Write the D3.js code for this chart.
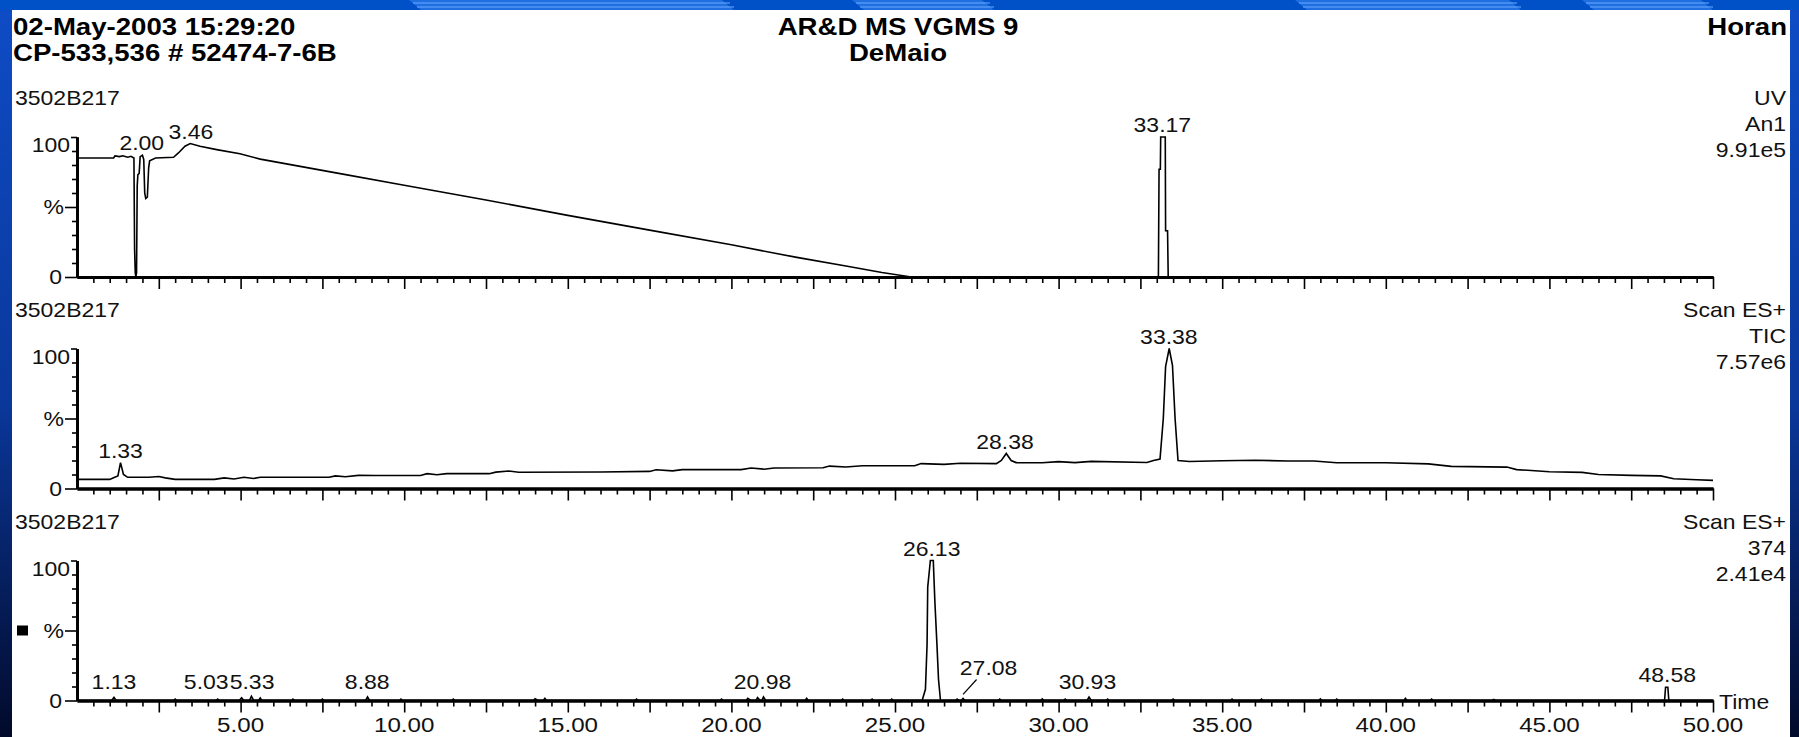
<!DOCTYPE html>
<html>
<head>
<meta charset="utf-8">
<script src="https://cdn.jsdelivr.net/npm/d3@7"></script>
<style>
html,body{margin:0;padding:0;background:#0a3a9c;overflow:hidden}
svg{display:block}
</style>
</head>
<body>
<svg id="chart"></svg>
<script>
// ---- data ----
const headerLeft = ["02-May-2003 15:29:20", "CP-533,536 # 52474-7-6B"]
const headerMid = ["AR&D MS VGMS 9", "DeMaio"]
const headerRight = "Horan"
const sampleName = "3502B217"
const traceInfo = [["UV", "An1", "9.91e5"], ["Scan ES+", "TIC", "7.57e6"], ["Scan ES+", "374", "2.41e4"]]
const timeTicks = [5, 10, 15, 20, 25, 30, 35, 40, 45, 50]

// UV An1 trace [time, %]
const uvTrace = [[0,85],[1.12,85],[1.16,86.5],[1.3,86],[1.4,86.6],[1.55,85.6],[1.65,86.2],[1.74,85],
  [1.76,20],[1.78,3],[1.8,0],[1.82,3],[1.84,65],[1.86,73],[1.9,74],[1.93,86],[2.0,87],[2.04,84],
  [2.07,60],[2.1,56],[2.15,57],[2.19,78],[2.22,83],[2.4,85],[2.95,85.5],[3.1,88.6],[3.3,93.4],
  [3.46,95.3],[3.76,93.4],[4.27,91],[4.98,88],[5.6,84.2],[8,74],[10,65.5],[12.5,55],[15,44],
  [17.5,33.5],[20,23],[22,14],[23.5,7.8],[24.6,3.2],[25.5,0],[33.05,0],[33.07,77],[33.11,77],
  [33.12,100],[33.26,100],[33.27,33],[33.33,33],[33.35,0],[50,0]]

// Scan ES+ TIC trace
const ticTrace = [[0,6.5],[1.0,6.5],[1.1,7.5],[1.25,9],[1.33,18.5],[1.42,10],[1.55,8],[2.2,8],[2.5,8.6],
  [2.7,7.6],[3.0,6.5],[4.2,6.5],[4.5,7.6],[4.8,6.8],[5.1,8],[5.4,7.2],[5.6,8],[7.7,8],[7.9,9],[8.2,8.4],
  [8.6,9.4],[9.1,9.3],[10.5,9.3],[10.7,10.6],[11,9.8],[11.3,10.6],[12.6,10.6],[12.8,11.7],[13.2,12.5],
  [13.5,11.6],[16,11.8],[17.5,12.2],[17.7,13.4],[18.2,12.6],[18.5,13.5],[20.3,13.5],[20.6,14.6],[21,13.8],
  [21.3,14.6],[22.8,14.8],[23,16],[23.5,15.4],[24,16.2],[25.6,16.2],[25.8,17.8],[26.5,17.2],[27,18],
  [28.1,17.8],[28.25,20],[28.4,25],[28.55,20],[28.7,18.5],[29.5,18.4],[30,19.2],[30.5,18.5],[31,19.4],
  [32.7,18.6],[32.9,20],[33.1,21],[33.2,50],[33.27,87],[33.38,100],[33.48,88],[33.56,50],[33.65,20],
  [34,19.3],[35,19.8],[36,20.2],[37,19.6],[37.8,19.6],[38.5,18.4],[40,18.4],[41.3,17.6],[42,15.8],
  [43.7,15.3],[44,13.5],[45,12],[46,11.5],[46.5,10],[47.5,9.4],[48.4,9],[48.8,7],[49.5,6.2],[50,5.8]]

// Scan ES+ 374 trace
const sirTrace = [[0,0],[1.06,0],[1.13,2.2],[1.2,0],[2.95,0],[3.0,1],[3.05,0],[4.25,0],[4.3,1],[4.35,0],
  [4.96,0],[5.03,2],[5.1,0],[5.27,0],[5.33,3],[5.4,0],[5.55,0],[5.6,1.8],[5.65,0],[6.55,0],[6.6,1],[6.65,0],
  [7.45,0],[7.5,1],[7.55,0],[8.82,0],[8.88,2.5],[8.94,0],[9.85,0],[9.9,1],[9.95,0],[11.45,0],[11.5,1],
  [11.55,0],[13.95,0],[14.0,1.2],[14.1,0],[14.25,0],[14.3,1.5],[14.35,0],[17.05,0],[17.1,1],[17.15,0],
  [19.65,0],[19.7,1],[19.75,0],[20.45,0],[20.5,1.5],[20.6,0],[20.75,0],[20.8,2],[20.88,0],[20.93,0],
  [20.98,2.5],[21.05,0],[22.25,0],[22.3,1.5],[22.35,0],[23.35,0],[23.4,1],[23.45,0],[24.25,0],[24.3,1],
  [24.35,0],[24.85,0],[24.9,1],[24.95,0],[25.83,0],[25.93,8],[25.98,40],[26.0,81],[26.06,95],[26.08,100],
  [26.17,100],[26.22,70],[26.28,41],[26.33,15],[26.39,0],[26.85,0],[26.9,1],[26.95,0],[27.02,0],
  [27.08,1.5],[27.14,0],[28.15,0],[28.2,1],[28.25,0],[29.45,0],[29.5,1.2],[29.55,0],[30.15,0],[30.2,1],
  [30.25,0],[30.87,0],[30.93,2.5],[31.0,0],[31.45,0],[31.5,1],[31.55,0],[33.45,0],[33.5,1],[33.55,0],
  [35.25,0],[35.3,1],[35.35,0],[36.15,0],[36.2,1],[36.25,0],[37.95,0],[38.0,1.2],[38.05,0],[38.45,0],
  [38.5,1],[38.55,0],[40.55,0],[40.6,1.5],[40.65,0],[41.35,0],[41.4,1],[41.45,0],[43.25,0],[43.3,0.8],
  [43.35,0],[48.52,0],[48.55,9.5],[48.62,9.5],[48.65,0],[50,0]]

// peak labels: [time, height %, text, label time, label height]
const uvPeaks = [[1.98, 87, "2.00"], [3.48, 95.3, "3.46"], [33.17, 100, "33.17"]]
const ticPeaks = [[1.33, 18.5, "1.33"], [28.36, 25, "28.38"], [33.37, 100, "33.38"]]
const sirPeaks = [[1.13, 2.2, "1.13"], [5.03, 2, "5.03", 3.95], [5.35, 3, "5.33"], [8.87, 2.5, "8.88"],
  [20.95, 2.5, "20.98"], [26.12, 100, "26.13"], [27.08, 1.5, "27.08", 27.86, 15], [30.88, 2.5, "30.93"],
  [48.6, 9.5, "48.58"]]

const traces = [uvTrace, ticTrace, sirTrace]
const peaks = [uvPeaks, ticPeaks, sirPeaks]

// ---- layout ----
const W = 1799, H = 737
const SX = 1.15            // the screenshot text is stretched sideways
const panelTop = [137, 348.5, 560.5]
const panelH = 140
const x0 = 77, x1 = 1713

const svg = d3.select('#chart').attr('width', W).attr('height', H)
  .style('font-family', '"Liberation Sans", Arial, sans-serif')

// slide background
const defs = svg.append('defs')
const grad = defs.append('linearGradient').attr('id', 'bg').attr('x1', 0).attr('y1', 0).attr('x2', 0).attr('y2', 1)
grad.append('stop').attr('offset', '0%').attr('stop-color', '#0e4cc6')
grad.append('stop').attr('offset', '55%').attr('stop-color', '#0a379a')
grad.append('stop').attr('offset', '100%').attr('stop-color', '#020a2a')
svg.append('rect').attr('width', W).attr('height', H).attr('fill', 'url(#bg)')
svg.append('rect').attr('width', W).attr('height', 10).attr('fill', '#0050c8')
const bands = [[421, 734], [864, 994], [1307, 1521], [1594, 1713]]
bands.forEach(b => {
  svg.append('path').attr('d', `M${b[0] - 12},0L${b[1] - 12},0L${b[1]},10L${b[0]},10Z`).attr('fill', '#1f6fe0')
  svg.append('line').attr('x1', b[0] - 8).attr('x2', b[1] - 4).attr('y1', 3).attr('y2', 3).attr('stroke', '#6aaaff').attr('stroke-width', 1)
  svg.append('line').attr('x1', b[0] - 4).attr('x2', b[1]).attr('y1', 7).attr('y2', 7).attr('stroke', '#6aaaff').attr('stroke-width', 1)
})
svg.append('rect').attr('x', 12).attr('y', 10).attr('width', 1778).attr('height', H - 10).attr('fill', '#fff')

function txt(sel, x, y, s, o = {}) {
  return sel.append('text')
    .attr('transform', `translate(${x},${y}) scale(${o.sx || SX},1)`)
    .attr('text-anchor', o.anchor || 'start')
    .attr('font-size', o.size || 20)
    .attr('font-weight', o.weight || 'normal')
    .attr('fill', o.fill || '#111')
    .text(s)
}

// header
txt(svg, 13, 35, headerLeft[0], { size: 24, weight: 'bold', fill: '#000' })
txt(svg, 13, 61, headerLeft[1], { size: 24, weight: 'bold', fill: '#000' })
txt(svg, 898, 35, headerMid[0], { size: 24, weight: 'bold', fill: '#000', anchor: 'middle' })
txt(svg, 898, 61, headerMid[1], { size: 24, weight: 'bold', fill: '#000', anchor: 'middle' })
txt(svg, 1787, 35, headerRight, { size: 24, weight: 'bold', fill: '#000', anchor: 'end' })

const x = d3.scaleLinear().domain([0, 50]).range([x0, x1])
const minorX = d3.range(0.5, 50.01, 0.5).filter(v => Math.abs(v / 2.5 - Math.round(v / 2.5)) > 1e-6)
const majorX = d3.range(2.5, 50.01, 2.5)

traces.forEach((tr, i) => {
  const top = panelTop[i]
  const y = d3.scaleLinear().domain([0, 100]).range([top + panelH, top])
  const g = svg.append('g')

  txt(g, 15, top - 32, sampleName)
  traceInfo[i].forEach((s, k) => txt(g, 1786, top - 6 + (k - 1) * 26, s, { anchor: 'end' }))

  // x axis
  const gx = g.append('g').attr('transform', `translate(0,${y(0)})`)
  gx.call(d3.axisBottom(x).tickValues(minorX).tickSize(6).tickSizeOuter(0).tickFormat(''))
  gx.append('g').call(d3.axisBottom(x).tickValues(majorX).tickSize(12).tickSizeOuter(0).tickFormat(''))
  gx.selectAll('.domain').attr('stroke-width', 3)
  gx.selectAll('.tick line').attr('stroke-width', 1.6)

  // y axis
  const gy = g.append('g').attr('transform', `translate(${x0},0)`)
  gy.call(d3.axisLeft(y).tickValues([10, 20, 30, 40, 60, 70, 80, 90]).tickSize(5).tickSizeOuter(0).tickFormat(''))
  gy.append('g').call(d3.axisLeft(y).tickValues([0, 50]).tickSize(12).tickSizeOuter(0).tickFormat(''))
  gy.append('g').call(d3.axisLeft(y).tickValues([100]).tickSize(6).tickSizeOuter(0).tickFormat(''))
  gy.selectAll('.domain').attr('stroke-width', 2.5)
  gy.selectAll('.tick line').attr('stroke-width', 1.6)
  txt(g, 70, y(100) + 15, '100', { anchor: 'end' })
  txt(g, 64, y(50) + 7, '%', { anchor: 'end' })
  txt(g, 62, y(0) + 7, '0', { anchor: 'end' })

  // trace
  const line = d3.line().x(d => x(d[0])).y(d => y(d[1]))
  g.append('path').datum(tr).attr('d', line).attr('fill', 'none')
    .attr('stroke', '#000').attr('stroke-width', 1.6).attr('stroke-linejoin', 'miter')

  // peak labels
  peaks[i].forEach(p => {
    const lt = p[3] !== undefined ? p[3] : p[0]
    const lh = p[4] !== undefined ? p[4] : p[1]
    const by = Math.min(y(lh) - 5, y(0) - 12)
    txt(g, x(lt), by, p[2], { anchor: 'middle' })
    if (p[4] !== undefined) {
      g.append('line').attr('x1', x(lt) - 12).attr('y1', by + 5)
        .attr('x2', x(p[0])).attr('y2', y(p[1]) - 4).attr('stroke', '#000').attr('stroke-width', 1.2)
    }
  })

  if (i === 2) {
    timeTicks.forEach(t => txt(g, x(t), y(0) + 31, d3.format('.2f')(t), { anchor: 'middle', size: 21 }))
    txt(g, x1 + 6, y(0) + 8, 'Time')
    g.append('rect').attr('x', 17).attr('y', y(50) - 5).attr('width', 11).attr('height', 10).attr('fill', '#000')
  }
})
</script>
</body>
</html>
